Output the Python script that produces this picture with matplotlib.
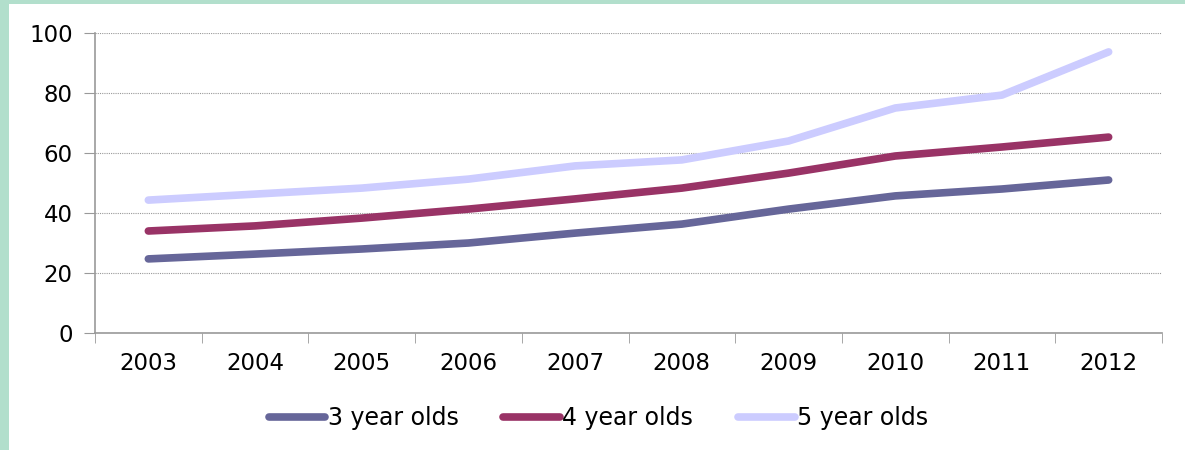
import matplotlib
matplotlib.use('Agg')
import matplotlib.pyplot as plt
from matplotlib.patches import Rectangle

plt.rcParams['font.family'] = ['DejaVu Sans']

years = ['2003', '2004', '2005', '2006', '2007', '2008', '2009', '2010', '2011', '2012']
age3 = [24.7, 26.3, 28.0, 30.0, 33.3, 36.3, 41.3, 45.7, 48.0, 51.0]
age4 = [34.0, 35.7, 38.3, 41.3, 44.7, 48.3, 53.3, 59.0, 62.0, 65.3]
age5 = [44.3, 46.3, 48.3, 51.3, 55.7, 57.7, 64.0, 75.0, 79.3, 93.7]

series = [('3 year olds', age3, '#666699'),
          ('4 year olds', age4, '#993366'),
          ('5 year olds', age5, '#CCCCFF')]

fig = plt.figure(figsize=(11.85, 4.5), dpi=100)
fig.patch.set_facecolor('#B2DFCC')
# white panel inside the green frame (frame only shows on left and top)
fig.patches.append(Rectangle((9 / 1185, 0), 1, 446 / 450, transform=fig.transFigure,
                             facecolor='white', edgecolor='none', zorder=-10))

ax = fig.add_axes([95 / 1185, (450 - 333) / 450, 1067 / 1185, 300 / 450])
ax.set_facecolor('none')

x = list(range(len(years)))
for label, vals, color in series:
    ax.plot(x, vals, color=color, linewidth=5.5, solid_capstyle='round', label=label)

ax.set_xlim(-0.5, len(years) - 0.5)
ax.set_ylim(0, 100)
ax.set_yticks(range(0, 101, 20))
ax.set_xticks(x)
ax.set_xticklabels(years)
ax.set_xticks([i - 0.5 for i in range(len(years) + 1)], minor=True)
ax.tick_params(axis='x', which='major', length=0, pad=14, labelsize=16.5)
ax.tick_params(axis='x', which='minor', length=7, color='#999999', direction='out')
ax.tick_params(axis='y', length=8, color='#999999', labelsize=16.5, pad=8)

ax.grid(axis='y', color='#999999', linestyle=(0, (1, 1)), linewidth=0.8)
ax.set_axisbelow(True)
for side in ['top', 'right']:
    ax.spines[side].set_visible(False)
for side in ['left', 'bottom']:
    ax.spines[side].set_color('#999999')
    ax.spines[side].set_linewidth(1.2)

fig.legend(loc='center', bbox_to_anchor=(0.505, 1 - 418 / 450), ncol=3, frameon=False,
           fontsize=17, handlelength=2.4, handletextpad=0.1, columnspacing=1.9)

plt.savefig('out.png', dpi=100, facecolor=fig.get_facecolor())
